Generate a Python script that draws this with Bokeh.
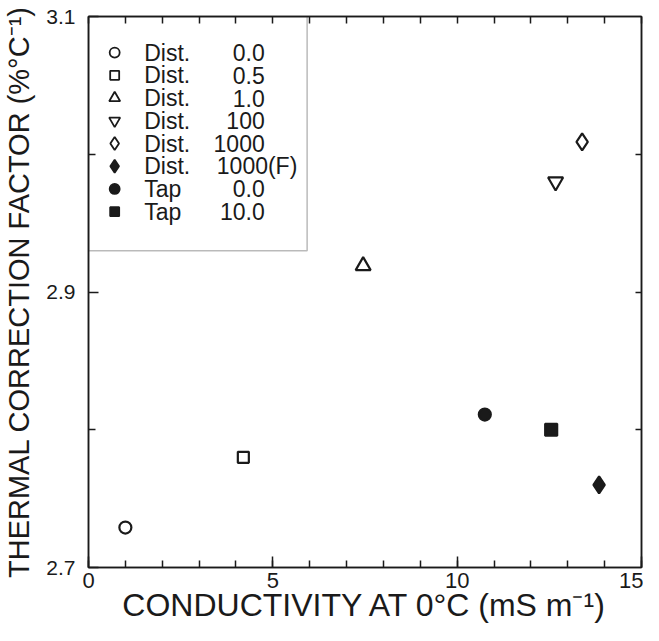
from bokeh.plotting import figure
from bokeh.models import (ColumnDataSource, FixedTicker, LinearAxis, BoxAnnotation)
from bokeh.core.properties import value
from bokeh.embed import file_html
from bokeh.resources import INLINE

# ---- data ----
medium = ["Dist.", "Dist.", "Dist.", "Dist.", "Dist.", "Dist.", "Tap", "Tap"]
concentration = ["0.0", "0.5", "1.0", "100", "1000", "1000(F)", "0.0", "10.0"]
conductivity = [1.0, 4.2, 7.45, 12.67, 13.39, 13.85, 10.75, 12.55]   # mS m^-1 at 0 C
correction = [2.729, 2.780, 2.919, 2.980, 3.009, 2.760, 2.811, 2.800]  # % per C
markers = ["circle", "square", "triangle", "inverted_triangle", "diamond",
           "diamond", "circle", "square"]
filled = [False, False, False, False, False, True, True, True]

x_ticks = [0, 5, 10, 15]
x_minor = list(range(0, 16))
y_ticks = [2.7, 2.9, 3.1]
y_minor = [2.8, 3.0]

# ---- styling ----
FONT = "Liberation Sans"
INK = "#1a1a1a"
data_sizes = [12, 11, 15, 15, 17, 17, 12, 12]
legend_sizes = [10, 9, 11, 11, 13, 13, 10, 9]

p = figure(width=643, height=625, x_range=(0, 15), y_range=(2.7, 3.1),
           output_backend="svg", toolbar_location=None,
           min_border_left=87, min_border_right=2, min_border_top=16,
           min_border_bottom=58, background_fill_color="white",
           border_fill_color="white")
p.grid.visible = False
p.outline_line_color = INK
p.outline_line_width = 1.5

fills = [INK if f else "white" for f in filled]
src = ColumnDataSource(dict(x=conductivity, y=correction, marker=markers,
                            fill=fills, size=data_sizes))
p.scatter("x", "y", source=src, marker="marker", size="size",
          fill_color="fill", line_color=INK, line_width=2.2)

# ---- axes ----
def style_axis(ax, tick_in, minor_in, show_labels, label_size="20px"):
    ax.axis_line_color = INK
    ax.axis_line_width = 1.5
    ax.major_tick_line_color = INK
    ax.minor_tick_line_color = INK
    ax.major_tick_line_width = 1.5
    ax.minor_tick_line_width = 1.5
    ax.major_tick_in = tick_in
    ax.major_tick_out = 0
    ax.minor_tick_in = minor_in
    ax.minor_tick_out = 0
    ax.major_label_text_font = FONT
    if show_labels:
        ax.major_label_text_color = INK
        ax.major_label_text_font_size = label_size
    else:
        ax.major_label_text_color = None
        ax.major_label_text_font_size = "1px"
    ax.axis_label_text_font = FONT
    ax.axis_label_text_font_style = "normal"
    ax.axis_label_text_color = INK

xa = p.xaxis[0]
xa.ticker = FixedTicker(ticks=x_ticks, minor_ticks=x_minor)
style_axis(xa, 11, 7, True, "22px")
xa.major_label_standoff = 5
xa.axis_label = "CONDUCTIVITY AT 0°C (mS m⁻¹)"
xa.axis_label_text_font_size = "32px"
xa.axis_label_standoff = -4

ya = p.yaxis[0]
ya.ticker = FixedTicker(ticks=y_ticks, minor_ticks=y_minor)
style_axis(ya, 10, 7, True, "21px")
ya.major_label_standoff = 13
ya.axis_label = "THERMAL CORRECTION FACTOR (%°C⁻¹)"
ya.axis_label_text_font_size = "29px"
ya.axis_label_standoff = 8

top = LinearAxis(ticker=FixedTicker(ticks=x_minor, minor_ticks=[]))
style_axis(top, 7, 0, False)
top.major_label_standoff = 0
p.add_layout(top, "above")

right = LinearAxis(ticker=FixedTicker(ticks=[2.8, 2.9, 3.0], minor_ticks=[]))
style_axis(right, 6, 0, False)
right.major_label_standoff = 0
p.add_layout(right, "right")

# ---- legend box (drawn in data space, top-left corner) ----
box_right, box_bottom = 5.93, 2.930
p.add_layout(BoxAnnotation(left=0, right=box_right, top=3.1, bottom=box_bottom,
                           fill_color=None, line_color=INK, line_width=1.5))

row0, step = 3.0738, 0.0165
marker_x, medium_x, value_right_x, value_left_x = 0.71, 1.51, 4.78, 3.48
rows_y = [row0 - i * step for i in range(len(medium))]

leg = ColumnDataSource(dict(x=[marker_x] * len(medium), y=rows_y, marker=markers,
                            fill=fills, size=legend_sizes))
p.scatter("x", "y", source=leg, marker="marker", size="size",
          fill_color="fill", line_color=INK, line_width=1.8)

LEG_FS = value("23px")
p.text(x=[medium_x] * len(medium), y=rows_y, text=medium,
       text_font=value(FONT), text_font_size=LEG_FS, text_color=INK,
       text_align="left", text_baseline="middle")

right_idx = [i for i, c in enumerate(concentration) if "(" not in c]
left_idx = [i for i, c in enumerate(concentration) if "(" in c]
p.text(x=[value_right_x] * len(right_idx), y=[rows_y[i] for i in right_idx],
       text=[concentration[i] for i in right_idx],
       text_font=value(FONT), text_font_size=LEG_FS, text_color=INK,
       text_align="right", text_baseline="middle")
p.text(x=[value_left_x] * len(left_idx), y=[rows_y[i] for i in left_idx],
       text=[concentration[i] for i in left_idx],
       text_font=value(FONT), text_font_size=LEG_FS, text_color=INK,
       text_align="left", text_baseline="middle")

open("out.html", "w").write(file_html(p, INLINE))
